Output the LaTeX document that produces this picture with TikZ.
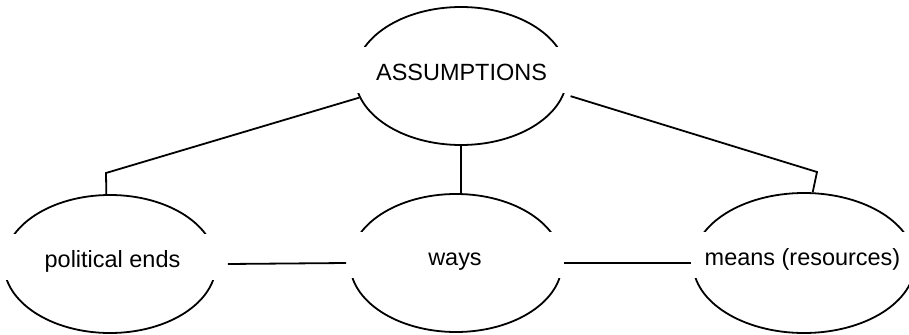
\documentclass[tikz,border=0pt]{standalone}
\usepackage{fontspec}
\setmainfont{Liberation Sans}
\usetikzlibrary{shapes.geometric}

\begin{document}
\begin{tikzpicture}[x=0.75pt,y=-0.75pt,line width=1.35pt,
  every node/.style={font=\fontsize{17.6}{21}\selectfont},
  oval/.style={draw,ellipse,inner sep=0pt,minimum width=159pt,minimum height=103.5pt},
  lbl/.style={fill=white,inner xsep=0pt,inner ysep=0pt,text height=24.75pt,text depth=9.75pt,anchor=base}]
\useasboundingbox (0,0) rectangle (909,335);
% ovals
\node[oval] (assume) at (461,76) {};
\node[oval] (ends) at (110,264) {};
\node[oval] (ways) at (456,263) {};
\node[oval,minimum width=166.5pt,minimum height=105pt] (means) at (804,263) {};
% white text boxes over the ovals
\node[lbl,minimum width=165pt] (assumel) at (461.5,80) {ASSUMPTIONS};
\node[lbl,minimum width=171.75pt] (endsl) at (112.5,267) {political ends};
\node[lbl,minimum width=162pt] (waysl) at (455,265) {ways};
\node[lbl,minimum width=165.75pt] (meansl) at (802.5,265) {means (resources)};
% links
\coordinate (lbend) at (106,173);
\coordinate (rbend) at (817,172);
\draw (assume.192) -- (lbend) -- (ends.93);
\draw[shorten <=5pt] (assume.-10) -- (rbend) -- (means.83);
\draw (assume.south) -- (assume.south |- ways.north);
\draw (endsl.east |- ends) -- (waysl.west |- ways);
\draw (waysl.east |- ways) -- (meansl.west |- means);
\end{tikzpicture}
\end{document}
